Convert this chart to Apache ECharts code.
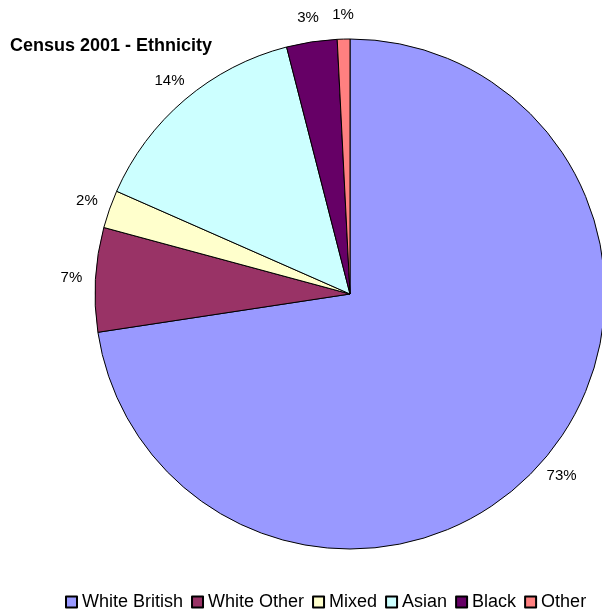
<!DOCTYPE html>
<html>
<head>
<meta charset="utf-8">
<script src="https://cdn.jsdelivr.net/npm/echarts@6/dist/echarts.min.js"></script>
<style>html,body{margin:0;padding:0;background:#fff;}#c{width:602px;height:611px;}</style>
</head>
<body>
<div id="c"></div>
<script>
var categories = ['White British', 'White Other', 'Mixed', 'Asian', 'Black', 'Other'];
var values = [72.6, 6.6, 2.4, 14.4, 3.2, 0.8];
var colors = ['#9999FF', '#993366', '#FFFFCC', '#CCFFFF', '#660066', '#FF8080'];

var data = categories.map(function (n, i) {
  return { name: n, value: values[i], itemStyle: { color: colors[i] } };
});
var labelData = categories.map(function (n, i) {
  return { name: n, value: values[i] };
});

var chart = echarts.init(document.getElementById('c'), null, { renderer: 'canvas' });
chart.setOption({
  animation: false,
  title: {
    text: 'Census 2001 - Ethnicity',
    left: 5, top: 32,
    textStyle: { fontFamily: 'Liberation Sans', fontSize: 18, fontWeight: 'bold', color: '#000' }
  },
  legend: {
    top: 588,
    left: 60,
    itemWidth: 11, itemHeight: 11, itemGap: 8,
    icon: 'rect',
    data: categories,
    textStyle: { fontFamily: 'Liberation Sans', fontSize: 18, color: '#000', padding: [0, 0, 0, 0] }
  },
  series: [
    {
      type: 'pie',
      center: [350, 294],
      radius: [0, 255],
      startAngle: 90,
      clockwise: true,
      data: data,
      label: { show: false },
      labelLine: { show: false },
      itemStyle: { borderColor: '#000', borderWidth: 1 },
      emphasis: { disabled: true }
    },
    {
      type: 'pie',
      center: [350, 294],
      radius: [270, 282],
      startAngle: 90,
      clockwise: true,
      silent: true,
      legendHoverLink: false,
      avoidLabelOverlap: false,
      data: labelData,
      itemStyle: { color: 'rgba(0,0,0,0)', borderWidth: 0 },
      label: {
        show: true,
        position: 'inside',
        fontFamily: 'Liberation Sans',
        fontSize: 15,
        color: '#000',
        formatter: function (p) { return Math.round(p.percent) + '%'; }
      },
      labelLine: { show: false },
      emphasis: { disabled: true }
    }
  ]
});
</script>
</body>
</html>
